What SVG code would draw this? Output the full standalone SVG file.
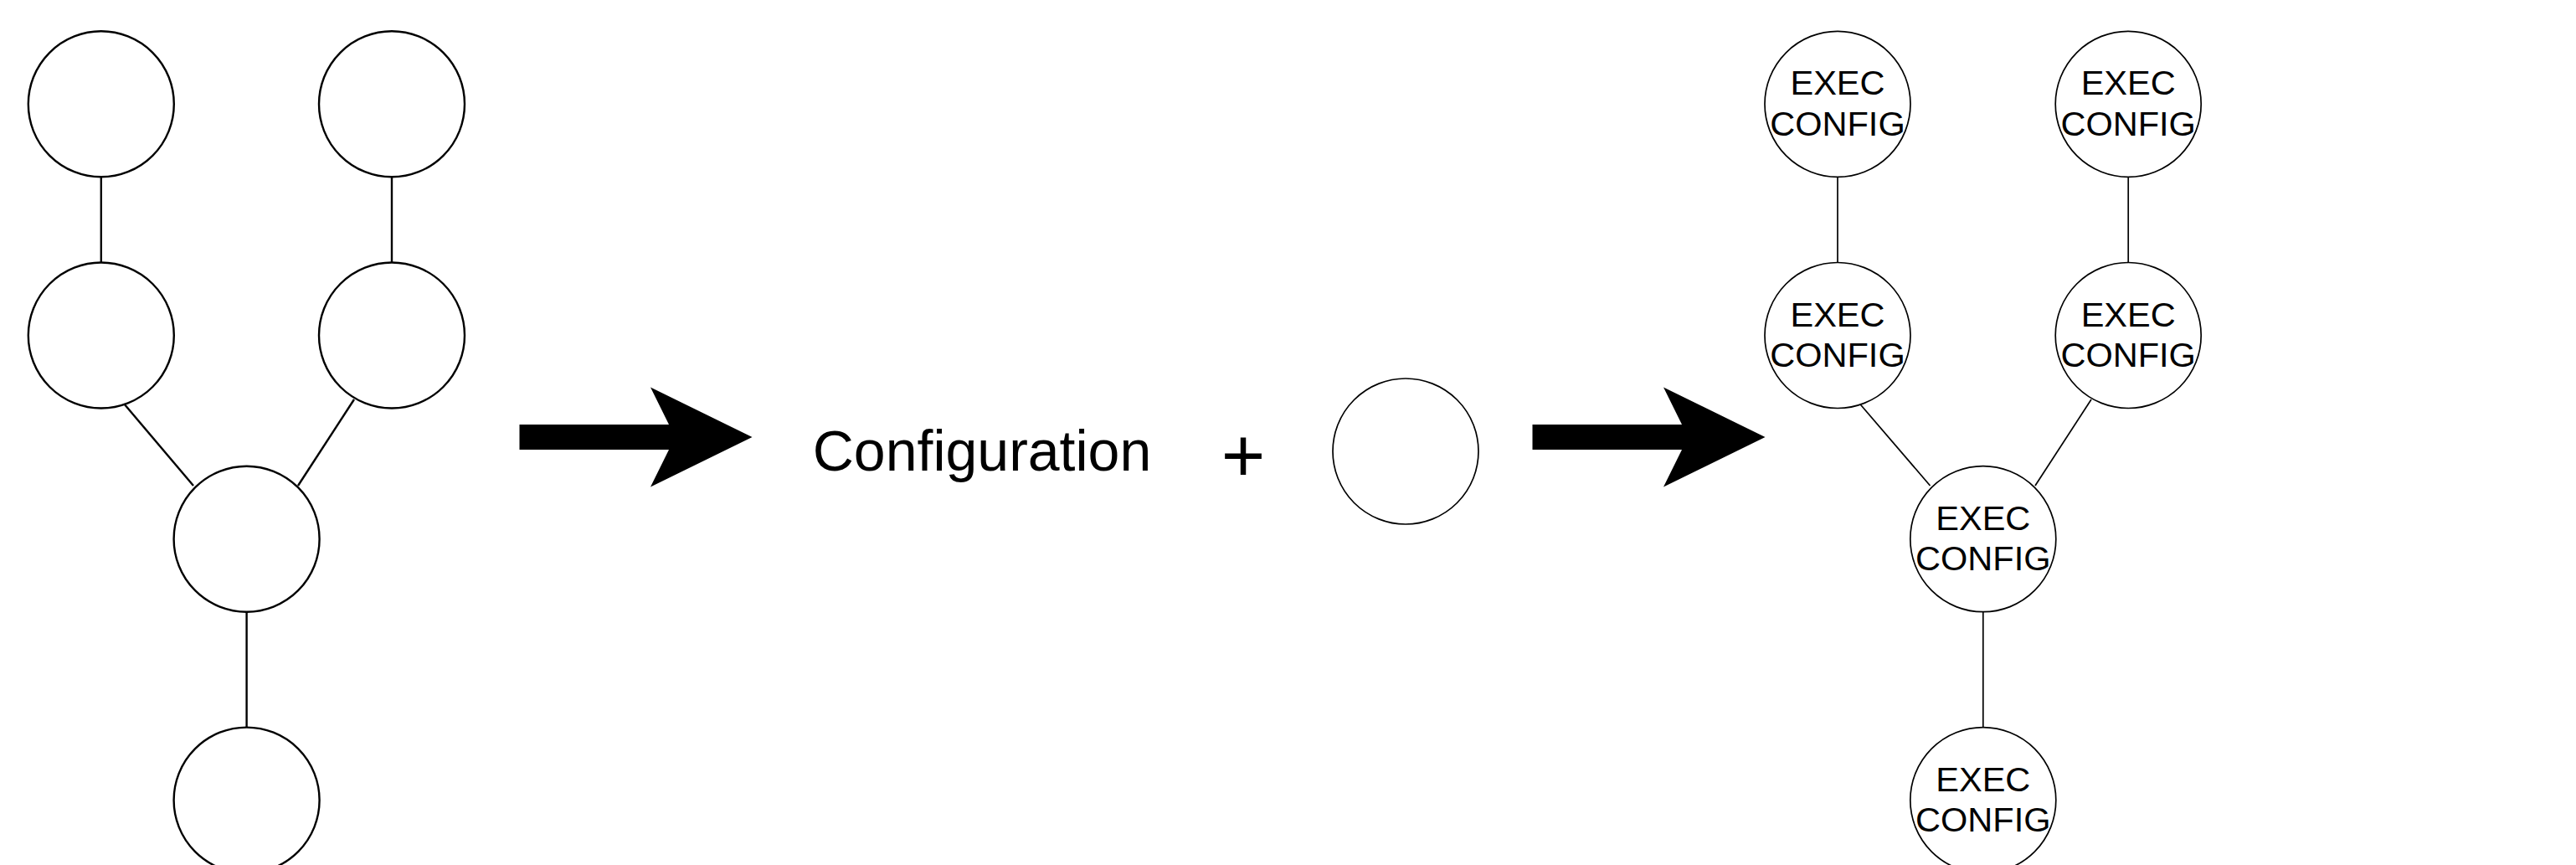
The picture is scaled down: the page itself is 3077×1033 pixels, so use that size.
<svg xmlns="http://www.w3.org/2000/svg" width="3077" height="1033" viewBox="0 0 3077 1033">
  <style>
    .bg { fill: #ffffff; }
    .nodeL { fill: #ffffff; stroke: #000000; stroke-width: 2.4; }
    .nodeR { fill: #ffffff; stroke: #000000; stroke-width: 1.7; }
    .edgeL { stroke: #000000; stroke-width: 2.4; fill: none; }
    .edgeR { stroke: #000000; stroke-width: 1.7; fill: none; }
    .big { fill: #000000; stroke: none; }
    .lbl { font-family: "Liberation Sans", Arial, Helvetica, sans-serif; font-size: 41.5px; fill: #000000; text-anchor: middle; }
    .cfg { font-family: "Liberation Sans", Arial, Helvetica, sans-serif; font-size: 68px; fill: #000000; text-anchor: middle; }
    .plus { font-family: "Liberation Sans", Arial, Helvetica, sans-serif; font-size: 90px; fill: #000000; text-anchor: middle; }
  </style>
  <rect class="bg" x="0" y="0" width="3077" height="1033" />

  <g id="connectors">
    <line class="edgeL" x1="120.8" y1="211.3" x2="120.8" y2="313.5" />
    <line class="edgeL" x1="468" y1="211.3" x2="468" y2="313.5" />
    <line class="edgeL" x1="148" y1="482" x2="231" y2="580" />
    <line class="edgeL" x1="423" y1="477" x2="356" y2="580" />
    <line class="edgeL" x1="294.6" y1="730.7" x2="294.6" y2="868.6" />

    <line class="edgeR" x1="2195" y1="211.3" x2="2195" y2="313.5" />
    <line class="edgeR" x1="2542.2" y1="211.3" x2="2542.2" y2="313.5" />
    <line class="edgeR" x1="2222.2" y1="483" x2="2305.5" y2="580" />
    <line class="edgeR" x1="2498" y1="477" x2="2431" y2="580" />
    <line class="edgeR" x1="2368.8" y1="730.7" x2="2368.8" y2="868.6" />
  </g>

  <g id="arrow1">
    <polygon class="big" points="620.5,507 799,507 777,462.5 898.5,522 777,581.5 799,537 620.5,537" />
  </g>
  <g id="arrow2">
    <polygon class="big" points="1830.5,507 2009,507 1987,462.5 2108.5,522 1987,581.5 2009,537 1830.5,537" />
  </g>

  <g id="configuration-label">
    <text class="cfg" x="1173" y="562">Configuration</text>
  </g>
  <g id="plus-label">
    <text class="plus" x="1485" y="575">+</text>
  </g>
  <g id="single-node">
    <circle class="nodeR" cx="1679" cy="539" r="87" />
  </g>

  <g id="L1"><circle class="nodeL" cx="120.8" cy="124.3" r="87" /></g>
  <g id="L2"><circle class="nodeL" cx="468" cy="124.3" r="87" /></g>
  <g id="L3"><circle class="nodeL" cx="120.8" cy="400.5" r="87" /></g>
  <g id="L4"><circle class="nodeL" cx="468" cy="400.5" r="87" /></g>
  <g id="L5"><circle class="nodeL" cx="294.6" cy="643.7" r="87" /></g>
  <g id="L6"><circle class="nodeL" cx="294.6" cy="955.6" r="87" /></g>

  <g id="R1">
    <circle class="nodeR" cx="2195" cy="124.3" r="87" />
    <text class="lbl" x="2195" y="113.3">EXEC</text>
    <text class="lbl" x="2195" y="162">CONFIG</text>
  </g>
  <g id="R2">
    <circle class="nodeR" cx="2542.2" cy="124.3" r="87" />
    <text class="lbl" x="2542.2" y="113.3">EXEC</text>
    <text class="lbl" x="2542.2" y="162">CONFIG</text>
  </g>
  <g id="R3">
    <circle class="nodeR" cx="2195" cy="400.5" r="87" />
    <text class="lbl" x="2195" y="389.5">EXEC</text>
    <text class="lbl" x="2195" y="438.2">CONFIG</text>
  </g>
  <g id="R4">
    <circle class="nodeR" cx="2542.2" cy="400.5" r="87" />
    <text class="lbl" x="2542.2" y="389.5">EXEC</text>
    <text class="lbl" x="2542.2" y="438.2">CONFIG</text>
  </g>
  <g id="R5">
    <circle class="nodeR" cx="2368.8" cy="643.7" r="87" />
    <text class="lbl" x="2368.8" y="632.7">EXEC</text>
    <text class="lbl" x="2368.8" y="681.4">CONFIG</text>
  </g>
  <g id="R6">
    <circle class="nodeR" cx="2368.8" cy="955.6" r="87" />
    <text class="lbl" x="2368.8" y="944.6">EXEC</text>
    <text class="lbl" x="2368.8" y="993.3">CONFIG</text>
  </g>
</svg>
